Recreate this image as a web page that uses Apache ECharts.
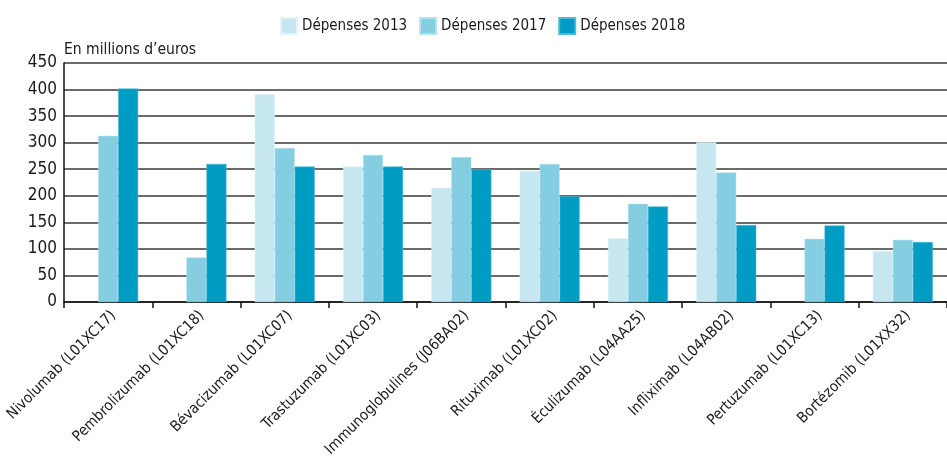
<!DOCTYPE html>
<html>
<head>
<meta charset="utf-8">
<script src="https://cdn.jsdelivr.net/npm/echarts@6/dist/echarts.min.js"></script>
<style>html,body{margin:0;padding:0;background:#fff}#c{width:947px;height:460px}</style>
</head>
<body>
<div id="c"></div>
<script>
const categories = ["Nivolumab (L01XC17)", "Pembrolizumab (L01XC18)", "Bévacizumab (L01XC07)", "Trastuzumab (L01XC03)", "Immunoglobulines (J06BA02)", "Rituximab (L01XC02)", "Éculizumab (L04AA25)", "Infliximab (L04AB02)", "Pertuzumab (L01XC13)", "Bortézomib (L01XX32)"];
const dep2013 = [null, null, 391, 255, 215, 247, 120, 301, null, 96];
const dep2017 = [313, 84, 290, 277, 273, 260, 185, 244, 119, 117];
const dep2018 = [402, 260, 255, 255, 250, 199, 180, 145, 144, 113];
const yTicks = [0, 50, 100, 150, 200, 250, 300, 350, 400, 450];

const FONT = '"Liberation Sans Narrow", "DejaVu Sans Condensed", "Roboto Condensed", sans-serif';
const chart = echarts.init(document.getElementById('c'), null, {renderer: 'canvas'});
chart.setOption({
  animation: false,
  textStyle: {fontFamily: FONT},
  legend: {
    top: 12, left: 275,
    itemWidth: 16, itemHeight: 16, itemGap: 12,
    icon: 'rect',
    textStyle: {fontFamily: FONT, fontSize: 15, color: '#1a1a1a'},
    data: ['Dépenses 2013', 'Dépenses 2017', 'Dépenses 2018']
  },
  title: {
    text: 'En millions d\u2019euros', left: 59, top: 37,
    textStyle: {fontFamily: FONT, fontSize: 15.5, fontWeight: 'normal', color: '#1a1a1a'}
  },
  grid: {left: 64, right: -4, top: 63, bottom: 158},
  xAxis: {
    type: 'category', data: categories,
    axisLine: {lineStyle: {color: '#111', width: 1.5}},
    axisTick: {show: true, length: 6, lineStyle: {color: '#111', width: 1.5}},
    axisLabel: {rotate: 45, fontSize: 15, color: '#1a1a1a', fontFamily: FONT, margin: 6, interval: 0, verticalAlign: 'top'}
  },
  yAxis: {
    type: 'value', min: 0, max: 450, interval: 50,
    axisLine: {show: true, lineStyle: {color: '#111', width: 1.5}},
    axisTick: {show: false},
    axisLabel: {fontSize: 17, color: '#1a1a1a', fontFamily: FONT, margin: 7,
      formatter: v => yTicks.includes(v) ? String(v) : ''},
    splitLine: {lineStyle: {color: '#3a3a3a', width: 1.5}}
  },
  series: [
    {name: 'Dépenses 2013', type: 'bar', data: dep2013, barWidth: 20, barGap: '0%',
      itemStyle: {color: '#c6e7f0', borderColor: '#e3f3f8', borderWidth: 0.5}},
    {name: 'Dépenses 2017', type: 'bar', data: dep2017, barWidth: 20, barGap: '0%',
      itemStyle: {color: '#85cee2', borderColor: '#b5e2ee', borderWidth: 0.5}},
    {name: 'Dépenses 2018', type: 'bar', data: dep2018, barWidth: 20, barGap: '0%',
      itemStyle: {color: '#009cc3', borderColor: '#4dbad6', borderWidth: 0.5}}
  ]
});
</script>
</body>
</html>
